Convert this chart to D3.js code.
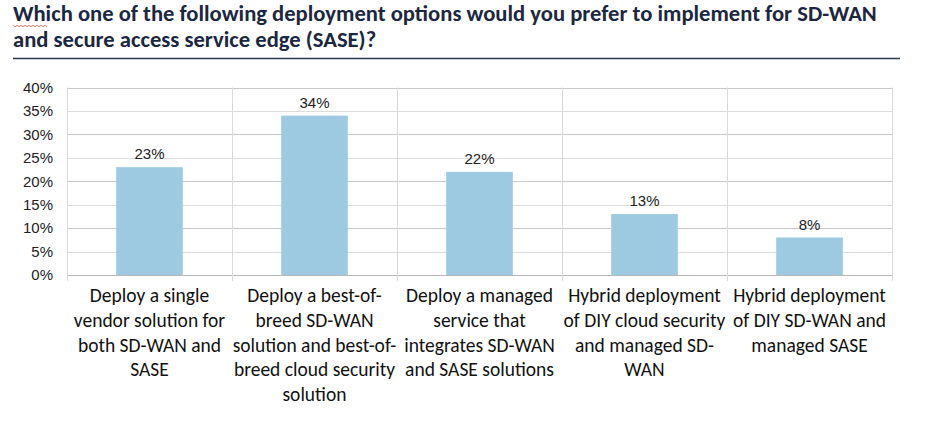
<!DOCTYPE html>
<html><head><meta charset="utf-8">
<script src="https://cdn.jsdelivr.net/npm/d3@7"></script>
<style>body{margin:0;background:#fff}</style>
</head><body>
<svg id="c" width="936" height="434"></svg>
<script>
const categories = [
  ["Deploy a single","vendor solution for","both SD-WAN and","SASE"],
  ["Deploy a best-of-","breed SD-WAN","solution and best-of-","breed cloud security","solution"],
  ["Deploy a managed","service that","integrates SD-WAN","and SASE solutions"],
  ["Hybrid deployment","of DIY cloud security","and managed SD-","WAN"],
  ["Hybrid deployment","of DIY SD-WAN and","managed SASE"]
];
const values = [23, 34, 22, 13, 8];
const yTicks = [0,5,10,15,20,25,30,35,40];
const titleLines = ["Which one of the following deployment options would you prefer to implement for SD-WAN","and secure access service edge (SASE)?"];

const svg = d3.select("#c");
const m = {l:67, r:892, t:87.5, b:275};
const x = d3.scaleBand().domain(d3.range(categories.length)).range([m.l, m.r]).paddingInner(0).paddingOuter(0);
const y = d3.scaleLinear().domain([0,40]).range([m.b, m.t]);

// title
const title = svg.append("text").attr("fill","#1c2741").attr("font-family","Carlito, Lato, sans-serif")
  .attr("font-weight","bold").attr("font-size",22.5);
titleLines.forEach((t,i)=>title.append("tspan").attr("x",13).attr("y",21+i*26).text(t));
// fit line 1 to reference width
const t1 = title.select("tspan").node();
const w1 = t1.getComputedTextLength();
title.attr("font-size", 22.5*864/w1);
svg.append("line").attr("x1",13).attr("x2",900).attr("y1",58.5).attr("y2",58.5).attr("stroke","#2b3650").attr("stroke-width",1.3);
// spellcheck squiggle under "Which"
const sq = d3.range(0,36,2).map((d,i)=>[13+d, 25.5 + (i%2?1.2:-0.2)]);
svg.append("path").attr("d",d3.line()(sq)).attr("fill","none").attr("stroke","#e23b3b").attr("stroke-width",0.7);

// horizontal grid
svg.append("g").selectAll("line").data(yTicks).join("line")
  .attr("x1",m.l).attr("x2",m.r).attr("y1",d=>Math.round(y(d))+0.5).attr("y2",d=>Math.round(y(d))+0.5)
  .attr("stroke",d=>d===0?"#b7b7b7":(d%10===0?"#c8c8c8":"#dcdcdc")).attr("stroke-width",1);
// vertical grid / ticks
const vx = d3.range(categories.length+1).map(i=> i<categories.length ? x(i) : m.r);
svg.append("g").selectAll("line").data(vx).join("line")
  .attr("x1",d=>Math.round(d)+0.5).attr("x2",d=>Math.round(d)+0.5).attr("y1",m.t).attr("y2",m.b+6)
  .attr("stroke","#d9d9d9");

// y axis labels
const yAxis = d3.axisLeft(y).tickValues(yTicks).tickFormat(d=>d+"%").tickSize(0).tickPadding(0);
const ya = svg.append("g").attr("transform",`translate(${m.l-14},0)`).call(yAxis);
ya.select(".domain").remove();
ya.selectAll("text").attr("font-family","'Liberation Sans', Arial, sans-serif").attr("font-size",15).attr("fill","#222");

// bars
const bw = x.bandwidth()*0.404;
svg.append("g").selectAll("rect").data(values).join("rect")
  .attr("x",(d,i)=>x(i)+x.bandwidth()/2-bw/2).attr("width",bw)
  .attr("y",d=>y(d)).attr("height",d=>y(0)-y(d)).attr("fill","#9ecae1");
svg.append("g").selectAll("text").data(values).join("text")
  .attr("x",(d,i)=>x(i)+x.bandwidth()/2).attr("y",d=>y(d)-8)
  .attr("text-anchor","middle").attr("font-family","'Liberation Sans', Arial, sans-serif")
  .attr("font-size",15).attr("fill","#222").text(d=>d+"%");

// category labels
const cl = svg.append("g").selectAll("text").data(categories).join("text")
  .attr("text-anchor","middle").attr("font-family","Carlito, Lato, sans-serif").attr("font-size",19.5).attr("fill","#111");
cl.each(function(lines,i){
  const t = d3.select(this);
  lines.forEach((s,j)=>t.append("tspan").attr("x",x(i)+x.bandwidth()/2).attr("y",302+j*24.8).text(s));
});
</script>
</body></html>
